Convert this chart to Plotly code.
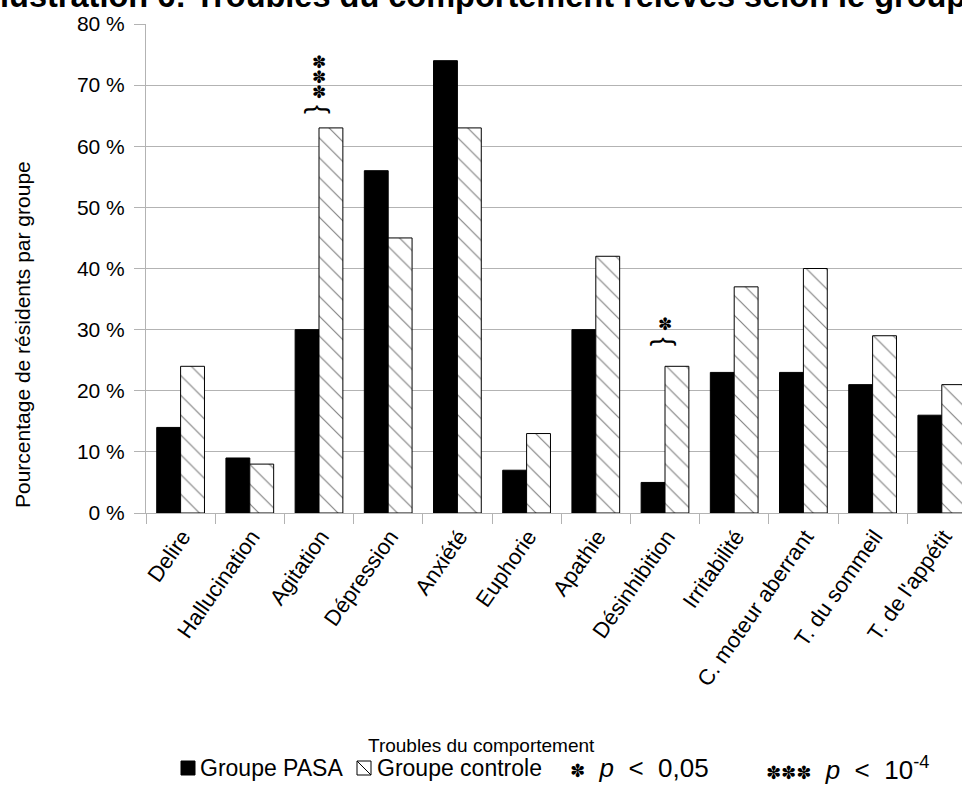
import plotly.graph_objects as go

categories = ["Delire", "Hallucination", "Agitation", "Dépression", "Anxiété", "Euphorie",
              "Apathie", "Désinhibition", "Irritabilité", "C. moteur aberrant",
              "T. du sommeil", "T. de l'appétit"]
pasa = [14, 9, 30, 56, 74, 7, 30, 5, 23, 23, 21, 16]
controle = [24, 8, 63, 45, 63, 13, 42, 24, 37, 40, 29, 21]
y_ticks = [0, 10, 20, 30, 40, 50, 60, 70, 80]
y_ticktext = [f"{v} %" for v in y_ticks]
# significance: category -> (number of stars, level of the brace in %)
significance = {"Agitation": (3, 66.1), "Désinhibition": (1, 28.1)}

W, H = 962, 793
L, R, T, B = 146, 0, 24, 280
PW, PH = W - L - R, H - T - B
FONT = "Liberation Sans"
STAR = "✽"


def px(x):
    return (x - L) / PW


def py(y):
    return (H - B - y) / PH


fig = go.Figure()
fig.add_trace(go.Bar(
    x=categories, y=pasa, name="Groupe PASA",
    marker=dict(color="black", line=dict(color="black", width=1)),
))
fig.add_trace(go.Bar(
    x=categories, y=controle, name="Groupe controle",
    marker=dict(color="white", line=dict(color="black", width=1),
                pattern=dict(shape="\\", fgcolor="black", bgcolor="white",
                             size=14, solidity=0.08)),
))

annotations = []
# significance marks
for cat, (n, level) in significance.items():
    annotations.append(dict(x=cat, y=level, xref="x", yref="y", text="{",
                            textangle=90, showarrow=False,
                            font=dict(family=FONT, size=27, color="black")))
    for k in range(n):
        annotations.append(dict(x=cat, y=level + 2.8 + 2.45 * k, xref="x", yref="y",
                                text=STAR, showarrow=False,
                                font=dict(family="DejaVu Sans", size=17, color="black")))

# title (cut at top of page)
annotations.append(dict(x=px(483), y=py(-4), xref="paper", yref="paper",
                        xanchor="center", yanchor="middle", showarrow=False,
                        text="<b>Illustration 6: Troubles du comportement relevés selon le groupe</b>",
                        font=dict(family=FONT, size=32.5, color="black")))
# axis titles
annotations.append(dict(x=px(481), y=py(745), xref="paper", yref="paper",
                        xanchor="center", yanchor="middle", showarrow=False,
                        text="Troubles du comportement",
                        font=dict(family=FONT, size=19, color="black")))
annotations.append(dict(x=px(22), y=py(335), xref="paper", yref="paper",
                        xanchor="center", yanchor="middle", showarrow=False,
                        textangle=-90, text="Pourcentage de résidents par groupe",
                        font=dict(family=FONT, size=21, color="black")))
# legend texts
leg_font = dict(family=FONT, size=23, color="black")
p_font = dict(family=FONT, size=26, color="black")
star_span = "<span style='font-family:DejaVu Sans;font-size:18px'>{}</span>"
annotations += [
    dict(x=px(198), y=py(768), text="Groupe PASA", font=leg_font),
    dict(x=px(375), y=py(768), text="Groupe controle", font=leg_font),
    dict(x=px(568), y=py(768), font=p_font,
         text=star_span.format(STAR) + "&nbsp; <i>p</i>&nbsp; &lt;&nbsp; 0,05"),
    dict(x=px(764), y=py(768), font=p_font,
         text=star_span.format(STAR * 3) + "&nbsp; <i>p</i>&nbsp; &lt;&nbsp; 10<sup>-4</sup>"),
]
for a in annotations[-4:]:
    a.update(xref="paper", yref="paper", xanchor="left", yanchor="middle",
             showarrow=False)

shapes = [
    dict(type="rect", xref="paper", yref="paper", x0=px(181), x1=px(195), y0=py(775), y1=py(761),
         fillcolor="black", line=dict(color="black", width=1)),
    dict(type="rect", xref="paper", yref="paper", x0=px(357), x1=px(371), y0=py(775), y1=py(761),
         fillcolor="white", line=dict(color="black", width=1)),
    dict(type="line", xref="paper", yref="paper", x0=px(357), x1=px(371), y0=py(761), y1=py(775),
         line=dict(color="black", width=1)),
]

n_visible = PW / 69.2
fig.update_layout(
    width=W, height=H,
    margin=dict(l=L, r=R, t=T, b=B, autoexpand=False),
    paper_bgcolor="white", plot_bgcolor="white",
    barmode="group", bargap=0.31, bargroupgap=0,
    showlegend=False,
    annotations=annotations, shapes=shapes,
    font=dict(family=FONT, size=20, color="black"),
)
fig.update_xaxes(
    range=[-0.5, -0.5 + n_visible], showline=True, linecolor="#b3b3b3", linewidth=1,
    ticks="outside", tickson="boundaries", ticklen=10, tickcolor="#b3b3b3",
    tickangle=-55, ticklabelstandoff=1, ticklabelshift=2,
    tickfont=dict(family=FONT, size=22, color="black"),
    showgrid=False,
)
fig.update_yaxes(
    range=[0, 80], tickvals=y_ticks, ticktext=y_ticktext,
    showline=True, linecolor="#b3b3b3", linewidth=1,
    ticks="outside", ticklen=11, tickcolor="#b3b3b3", ticklabelstandoff=5,
    showgrid=True, gridcolor="#b3b3b3", gridwidth=1, zeroline=False,
    tickfont=dict(family=FONT, size=21, color="black"),
)

fig.write_html("out.html", config={"displayModeBar": False},
               post_script="document.body.style.margin='0';")
